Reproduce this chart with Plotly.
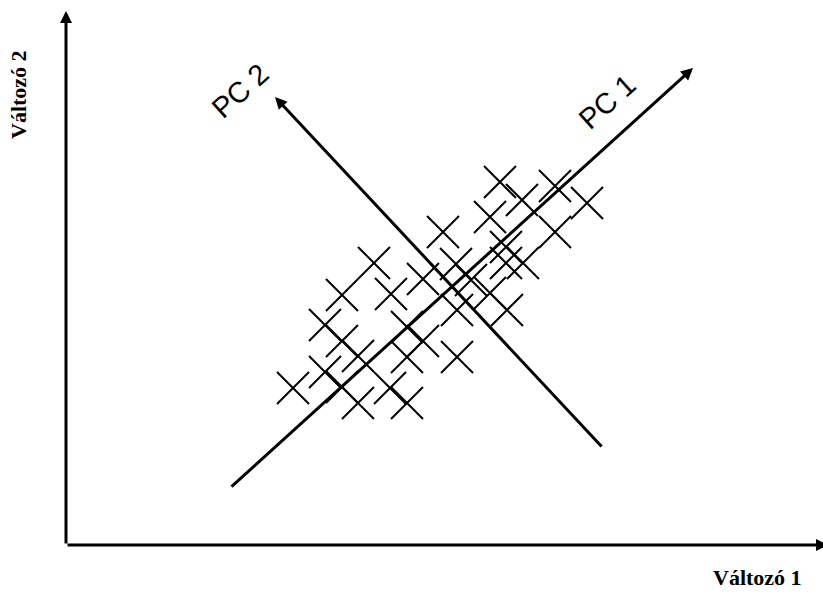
import plotly.graph_objects as go

# Cross-shaped observations (Változó 1, Változó 2)
obs_x = [22.7, 25.9, 25.9, 27.6, 27.6, 27.6, 29.2, 29.2, 30.8, 32.5, 32.4, 34.1,
         34.1, 34.1, 35.7, 35.7, 37.7, 39.0, 39.1, 39.1, 40.5, 42.4, 42.4, 43.4,
         44.0, 44.0, 45.7, 44.1, 45.6, 48.9, 48.9, 52.1]
obs_y = [15.7, 22.0, 17.3, 25.0, 20.4, 15.8, 18.9, 14.2, 28.2, 25.1, 15.7, 21.8,
         18.8, 14.2, 26.6, 20.4, 31.3, 28.1, 23.5, 18.8, 26.5, 32.8, 25.2, 36.3,
         29.8, 28.2, 28.2, 23.5, 34.5, 35.9, 31.3, 34.2]

# Arrows: (tail x, tail y, head x, head y)
axis_x_arrow = [0.0, 0.0, 76.2, 0.0]
axis_y_arrow = [0.0, 0.0, 0.0, 53.4]
pc1_arrow = [16.4, 5.7, 62.7, 47.7]
pc2_arrow = [53.7, 9.7, 20.9, 44.8]

# Labels
pc_labels = ["PC 1", "PC 2"]
pc_label_x = [54.1, 17.4]
pc_label_y = [44.3, 45.4]
axis_label_x = "Változó 1"
axis_label_y = "Változó 2"

fig = go.Figure()
fig.add_trace(go.Scatter(
    x=obs_x, y=obs_y, mode="markers",
    marker=dict(symbol="x-thin", size=32, color="black",
                line=dict(width=2, color="black")),
    hoverinfo="skip", showlegend=False))

annotations = []
for arr in [axis_x_arrow, axis_y_arrow, pc1_arrow, pc2_arrow]:
    annotations.append(dict(
        x=arr[2], y=arr[3], ax=arr[0], ay=arr[1],
        xref="x", yref="y", axref="x", ayref="y",
        text="", showarrow=True, arrowhead=2, arrowsize=0.8,
        arrowwidth=3, arrowcolor="black", standoff=0, startstandoff=0))

for t, x, y in zip(pc_labels, pc_label_x, pc_label_y):
    annotations.append(dict(
        x=x, y=y, xref="x", yref="y", text=t, showarrow=False,
        textangle=-42, font=dict(family="Liberation Sans, Arial", size=29, color="black")))

annotations.append(dict(
    x=69.1, y=-3.2, xref="x", yref="y", text="<b>" + axis_label_x + "</b>",
    showarrow=False,
    font=dict(family="Liberation Serif, Times New Roman", size=22, color="black")))
annotations.append(dict(
    x=-4.8, y=45.0, xref="x", yref="y", text="<b>" + axis_label_y + "</b>",
    showarrow=False, textangle=-90,
    font=dict(family="Liberation Serif, Times New Roman", size=22, color="black")))

fig.update_layout(
    width=823, height=595,
    margin=dict(l=0, r=0, t=0, b=0),
    paper_bgcolor="white", plot_bgcolor="white",
    xaxis=dict(range=[-6.6, 75.7], visible=False, fixedrange=True),
    yaxis=dict(range=[-5.0, 54.5], visible=False, fixedrange=True),
    annotations=annotations,
    showlegend=False,
)

fig.write_html(
    "out.html",
    config={"displayModeBar": False},
    post_script="document.body.style.margin='0';document.body.style.overflow='hidden';",
)
